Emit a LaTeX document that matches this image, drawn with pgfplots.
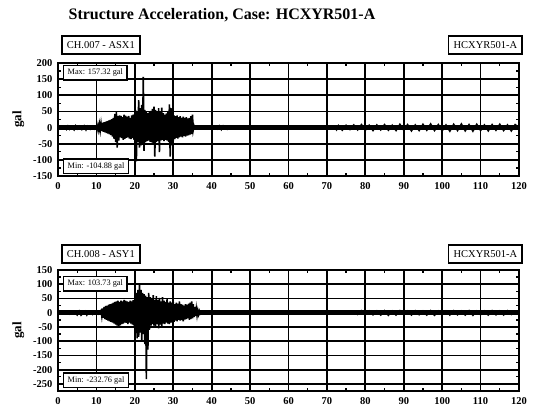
\documentclass[border=0pt]{standalone}
\usepackage{pgfplots}
\pgfplotsset{compat=1.18}
\usepackage{fontspec}
\setmainfont{Liberation Serif}
\pgfplotsset{
 sig/.style={
  scale only axis, width=461pt, xmin=0, xmax=120,
  xtick={0,10,...,120}, minor x tick num=1,
  grid=major, major grid style={line width=1.8pt, black},
  axis line style={line width=1.8pt},
  every tick/.style={line width=1.4pt, black},
  major tick length=4pt, minor tick length=3pt,
  tick align=inside,
  ticklabel style={font=\bfseries\fontsize{10.5}{11}\selectfont},
  /pgf/number format/assume math mode=true,
  ylabel={gal}, ylabel style={font=\bfseries\fontsize{13}{14}\selectfont},
  ylabel shift=2pt,
  yticklabel style={xshift=-2pt},
  xticklabel style={yshift=-3pt},
 }}
\tikzset{lbl/.style={draw, line width=1.6pt, fill=white, font=\fontsize{10.5}{11}\selectfont, inner xsep=5pt, minimum height=18pt},
 mm/.style={draw, line width=1.3pt, fill=white, font=\fontsize{8.3}{9}\selectfont, inner xsep=4pt, minimum height=13pt}}
\begin{document}
\begin{tikzpicture}
\path[use as bounding box] (0,0) rectangle (539pt,414pt);
\node[font=\bfseries\fontsize{16}{18}\selectfont] at (222pt,399pt) {Structure Acceleration, Case: HCXYR501-A};
% ---------------- top panel ----------------
\begin{axis}[sig, at={(58pt,238pt)}, anchor=south west, height=113pt,
  ymin=-150, ymax=200, ytick={-150,-100,...,200}, minor y tick num=1]
\addplot[line width=5pt] coordinates {(0,0) (120,0)};
\addplot[line width=1.6pt] coordinates {
(0,0) (1.0,-3) (1.5,3) (2.2,-6) (2.6,4) (3.0,-5) (3.5,3) (4.2,-7) (4.6,5) (5.0,-4) (5.5,4) (6.2,-6) (6.8,5) (7.3,-7) (7.8,4) (8.4,-5) (9.0,4) (9.5,-4)
(10.0,6) (10.2,-5) (10.4,8) (10.6,-7) (10.8,10) (11.0,-9) (11.2,12) (11.4,-11) (11.6,15) (11.8,-13)
(12.0,17) (12.2,-15) (12.4,18) (12.6,-17) (12.8,20) (13.0,-19) (13.2,22) (13.4,-21) (13.6,24) (13.8,-23)
(14.0,26) (14.2,-28) (14.4,30) (14.6,-35) (14.8,42) (15.0,-45) (15.2,48) (15.4,-62) (15.6,35) (15.8,-40)
(16.0,38) (16.2,-30) (16.4,36) (16.6,-33) (16.8,32) (17.0,-38) (17.2,40) (17.4,-35) (17.6,37) (17.8,-32)
(18.0,34) (18.2,-30) (18.4,36) (18.6,-34) (18.8,30) (19.0,-36) (19.2,38) (19.4,-33) (19.6,40) (19.8,-38)
(20.0,45) (20.2,48) (20.4,-105) (20.6,50) (20.8,-45) (21.0,85) (21.2,-62) (21.4,60) (21.6,-55) (21.8,70)
(22.0,-50) (22.2,157) (22.4,-72) (22.6,55) (22.8,-45) (23.0,48) (23.2,-42) (23.4,45) (23.6,-40) (23.8,50)
(24.0,-44) (24.2,52) (24.4,-46) (24.6,58) (24.8,-48) (25.0,65) (25.2,-90) (25.4,55) (25.6,-45) (25.8,50)
(26.0,-42) (26.2,60) (26.4,-76) (26.6,48) (26.8,-40) (27.0,62) (27.2,-38) (27.4,45) (27.6,-42) (27.8,40)
(28.0,-38) (28.2,44) (28.4,-40) (28.6,50) (28.8,-45) (29.0,72) (29.2,-90) (29.4,60) (29.6,-55) (29.8,45)
(30.0,-40) (30.2,38) (30.4,-36) (30.6,35) (30.8,-32) (31.0,38) (31.2,-34) (31.4,32) (31.6,-30) (31.8,35)
(32.0,-28) (32.2,30) (32.4,-30) (32.6,34) (32.8,-26) (33.0,30) (33.2,-28) (33.4,32) (33.6,-25) (33.8,28)
(34.0,-24) (34.2,30) (34.4,-22) (34.6,35) (34.8,-20) (35.0,40) (35.2,-8) (35.4,5) (35.6,-3) (36,0)
(41.5,-5) (42,5) (42.5,-6) (43,5) (44,-5) (44.5,4) (45.5,-4) (46,0)
(72,0) (72.5,-7) (73,6) (74,-8) (75,7) (76,-6) (77,8) (78,-7) (79,9) (80,-8) (81,7) (82,-9) (83,8) (84,-7) (85,9)
(86,-8) (87,7) (88,-9) (89,10) (90,-8) (91,9) (92,-10) (93,8) (94,-9) (95,10) (96,-8) (97,11) (98,-9) (99,9)
(100,-10) (101,8) (102,-11) (103,10) (104,-9) (105,11) (106,-10) (107,9) (108,-11) (109,10) (110,-9) (111,8)
(112,-10) (113,9) (114,-8) (115,10) (116,-9) (117,8) (118,-10) (119,9) (120,0)
};
\end{axis}
\node[lbl, anchor=west] at (61pt,369pt) {CH.007 - ASX1};
\node[lbl, anchor=east] at (523pt,369pt) {HCXYR501-A};
\node[mm, anchor=north west] at (63pt,349pt) {Max: 157.32 gal};
\node[mm, anchor=south west] at (63pt,240pt) {Min: -104.88 gal};
% ---------------- bottom panel ----------------
\begin{axis}[sig, at={(58pt,23pt)}, anchor=south west, height=121pt,
  ymin=-275, ymax=150, ytick={-250,-200,...,150}, minor y tick num=1]
\addplot[line width=5pt] coordinates {(0,0) (120,0)};
\addplot[line width=1.6pt] coordinates {
(0,0) (1.5,-3) (2,4) (3,-5) (4,4) (5,-8) (5.5,5) (6,-9) (7,5) (7.5,-8) (8,4) (9,-6) (9.5,4) (10.5,-5)
(11.2,8) (11.4,-12) (11.6,15) (11.8,-18) (12.0,20) (12.2,-22) (12.4,24) (12.6,-25) (12.8,25) (13.0,-28)
(13.2,28) (13.4,-30) (13.6,30) (13.8,-32) (14.0,32) (14.2,-35) (14.4,35) (14.6,-38) (14.8,38) (15.0,-42)
(15.2,40) (15.4,-45) (15.6,42) (15.8,-47) (16.0,38) (16.2,-44) (16.4,42) (16.6,-40) (16.8,40) (17.0,-38)
(17.2,45) (17.4,-35) (17.6,42) (17.8,-36) (18.0,40) (18.2,-40) (18.4,38) (18.6,-35) (18.8,42) (19.0,-38)
(19.2,40) (19.4,-42) (19.6,44) (19.8,-45) (20.0,50) (20.2,-60) (20.4,70) (20.6,-90) (20.8,80) (21.0,-85)
(21.2,104) (21.4,-70) (21.6,80) (21.8,-95) (22.0,70) (22.2,-75) (22.4,65) (22.6,-110) (22.8,60) (23.0,-233)
(23.2,55) (23.4,-130) (23.6,70) (23.8,-60) (24.0,55) (24.2,-45) (24.4,50) (24.6,-40) (24.8,62) (25.0,-45)
(25.2,45) (25.4,-50) (25.6,58) (25.8,-40) (26.0,45) (26.2,-55) (26.4,52) (26.6,-42) (26.8,40) (27.0,-48)
(27.2,55) (27.4,-38) (27.6,42) (27.8,-40) (28.0,38) (28.2,-35) (28.4,50) (28.6,-38) (28.8,35) (29.0,-40)
(29.2,40) (29.4,-35) (29.6,35) (29.8,-30) (30.0,38) (30.2,-32) (30.4,30) (30.6,-28) (30.8,35) (31.0,-30)
(31.2,32) (31.4,-25) (31.6,40) (31.8,-28) (32.0,30) (32.2,-26) (32.4,28) (32.6,-30) (32.8,25) (33.0,-24)
(33.2,30) (33.4,-22) (33.6,28) (33.8,-20) (34.0,32) (34.2,-25) (34.4,35) (34.6,-22) (34.8,40) (35.0,-20)
(35.2,30) (35.4,-15) (35.6,20) (35.8,-12) (36.0,14) (36.2,-10) (36.4,8) (36.6,-6) (36.8,5) (37.0,-4) (37.4,3) (38,0)
(76,0) (77,5) (78,-6) (79,7) (80,-6) (81,6) (82,-7) (83,6) (84,-8) (85,7) (86,-9) (87,6) (88,-8) (89,7) (90,-7)
(91,6) (92,-8) (93,7) (94,-7) (95,6) (96,-8) (97,7) (98,-9) (99,6) (100,-7) (101,6) (102,-8) (103,7) (104,-7)
(105,6) (106,-8) (107,7) (108,-9) (109,6) (110,-7) (111,6) (112,-8) (113,7) (114,-7) (115,6) (116,-8) (117,7) (118,-6) (119,5) (120,0)
};
\end{axis}
\node[lbl, anchor=west] at (61pt,160pt) {CH.008 - ASY1};
\node[lbl, anchor=east] at (523pt,160pt) {HCXYR501-A};
\node[mm, anchor=north west] at (63pt,138pt) {Max: 103.73 gal};
\node[mm, anchor=south west] at (63pt,26pt) {Min: -232.76 gal};
\end{tikzpicture}
\end{document}
